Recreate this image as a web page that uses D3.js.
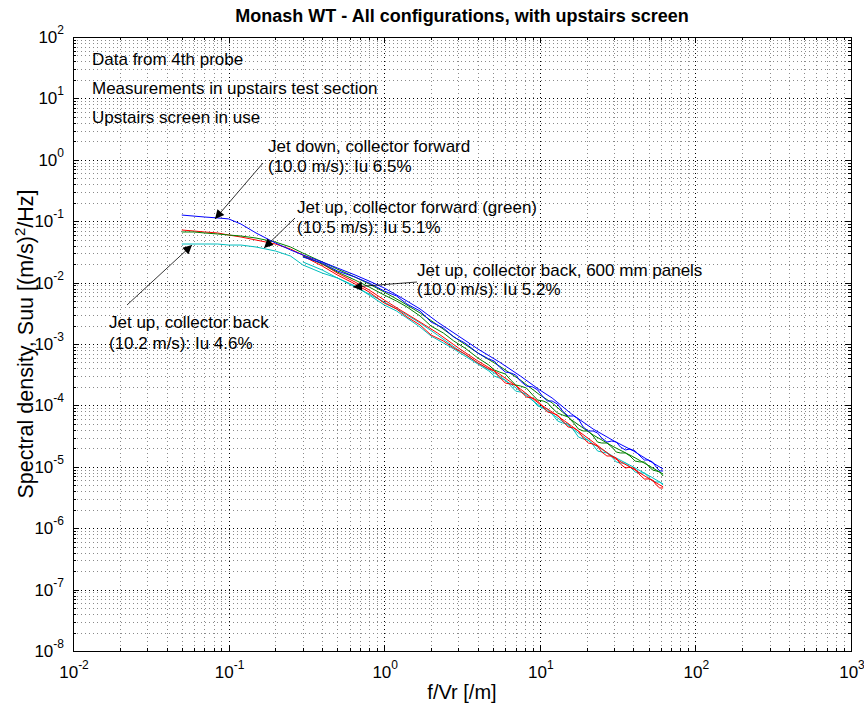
<!DOCTYPE html>
<html><head><meta charset="utf-8">
<script src="https://cdn.jsdelivr.net/npm/d3@7"></script>
<style>body{margin:0;background:#fff}svg{display:block}text{font-family:Arial,"Liberation Sans",sans-serif}</style>
</head><body><div id="c"></div>
<script>
// ---- data ----
const title = "Monash WT - All configurations, with upstairs screen";
const xLabel = "f/Vr [/m]";
const yLabelMain = "Spectral density, Suu [(m/s)";
const yLabelSup = "2";
const yLabelEnd = "/Hz]";
const xTickExps = [-2, -1, 0, 1, 2, 3];
const yTickExps = [-8, -7, -6, -5, -4, -3, -2, -1, 0, 1, 2];

const fLow  = [0.05,0.06,0.07,0.085,0.1,0.12,0.15,0.2,0.25,0.3,0.4,0.5,0.65,0.8,1,1.3,1.7,2.2,3,4,5.5,7.5,10,12,16,22,30,40,52,62];
const fHigh = [0.3,0.4,0.5,0.65,0.8,1,1.2,1.4,1.7,2,2.4,2.8,3.3,4,
  4.7,5.1,5.5,6,6.5,7,7.5,8.2,9,9.7,10.5,11.2,12,13,14,15.2,16.5,17.7,19,20.5,22,23.5,25,27,29,31,33,35.5,38,41,44,47,50,53,56,59,62];

const blueLow  = [0.126,0.121,0.117,0.113,0.109,0.090,0.0643,0.0442,0.034,0.0282,0.0217,0.0173,0.0133,0.0106,0.00817,0.00561,0.00372,0.00228,0.00135,0.00083,0.000509,0.000301,0.000178,0.000132,
  0.0000724,0.0000413,0.0000263,0.0000181,0.000012,0.0000092];
const blueHigh = [0.0261,0.0208,0.0155,0.0123,0.00985,0.0073,0.00605,0.00448,0.00345,0.00228,0.00182,0.0013,0.00104,0.000713,
  0.00057,0.000528,0.000422,0.00035,0.000338,0.000313,0.00025,0.000207,0.0002,0.000178,0.000137,0.000118,0.000118,0.000105,0.0000811,0.0000672,0.0000672,0.0000602,0.0000445,0.0000383,0.0000383,0.0000355,0.0000294,0.0000253,0.0000263,0.0000253,0.000021,0.0000188,0.0000195,0.0000181,0.000015,0.0000129,0.0000129,0.000012,0.0000099,0.00000855,0.00000855];

const greenLow  = [0.0667,0.0667,0.0643,0.0619,0.0596,0.0574,0.0532,0.0458,0.038,0.0303,0.0217,0.0166,0.0123,0.00948,0.00703,0.00483,0.0032,0.00204,0.00116,0.000713,0.000438,0.000259,0.000148,0.00011,
  0.0000579,0.000033,0.000021,0.0000145,0.0000099,0.00000763];
const greenHigh = [0.0271,0.0201,0.0149,0.011,0.00848,0.00628,0.00501,0.00401,0.00286,0.00196,0.00151,0.00112,0.000861,0.000592,
  0.000455,0.000378,0.00035,0.000325,0.000259,0.000215,0.000207,0.000192,0.000148,0.000122,0.000118,0.00011,0.0000907,0.0000752,0.0000698,0.0000648,0.0000517,0.0000413,0.0000383,0.0000383,0.0000318,0.0000253,0.0000244,0.0000244,0.000021,0.0000174,0.0000168,0.0000168,0.000015,0.0000124,0.000012,0.000012,0.0000103,0.00000887,0.00000855,0.00000823,0.00000708];

const redLow  = [0.0719,0.0692,0.0667,0.0643,0.0596,0.0553,0.0494,0.0425,0.0352,0.0282,0.0201,0.0143,0.0102,0.00757,0.00521,0.00345,0.00228,0.00151,0.000861,0.000528,0.000325,0.000185,0.000105,0.0000781,
  0.0000462,0.0000253,0.0000139,0.0000092,0.0000061,0.0000047];
const redHigh = [0.0271,0.0186,0.0133,0.00948,0.00703,0.00465,0.00372,0.00276,0.00204,0.0014,0.00112,0.000861,0.000687,0.000491,
  0.000392,0.000364,0.00029,0.000231,0.000223,0.000215,0.000171,0.000137,0.000132,0.000118,0.0000942,0.0000781,0.0000752,0.0000698,0.0000558,0.0000445,0.0000429,0.0000383,0.0000294,0.0000244,0.0000235,0.0000218,0.0000174,0.000015,0.000015,0.0000139,0.0000111,0.00000955,0.0000099,0.0000092,0.00000735,0.00000633,0.00000633,0.0000061,0.00000506,0.00000452,0.00000452];

const cyanLow  = [0.0425,0.0425,0.0425,0.0425,0.0409,0.0409,0.038,0.0327,0.0271,0.0194,0.0143,0.0119,0.00848,0.00652,0.00483,0.00332,0.0022,0.0014,0.000798,0.000491,0.000301,0.000171,0.0000977,0.0000724,
  0.0000429,0.0000235,0.0000145,0.0000099,0.00000683,0.00000525];
const cyanHigh = [0.0217,0.016,0.0119,0.00881,0.00628,0.00432,0.00345,0.00265,0.00189,0.00135,0.00104,0.00083,0.000638,0.000472,
  0.000364,0.000301,0.000279,0.000259,0.000207,0.000171,0.000165,0.000153,0.000122,0.0000977,0.0000907,0.0000873,0.0000724,0.0000558,0.0000517,0.0000498,0.0000397,0.0000306,0.0000284,0.0000273,0.0000226,0.0000181,0.0000174,0.0000168,0.0000145,0.000012,0.0000115,0.0000115,0.0000099,0.00000823,0.00000793,0.00000793,0.00000683,0.00000587,0.00000565,0.00000565,0.00000506];

const seriesColors = ["#0000ff","#008000","#ff0000","#00bfbf"];

const notesTopLeft = ["Data from 4th probe","Measurements in upstairs test section","Upstairs screen in use"];
const arrowNotes = [
  {lines:["Jet down, collector forward","(10.0 m/s): Iu 6.5%"], tx:268, ty:152, dy:20, from:[263,163], to:[0.0818,0.1086]},
  {lines:["Jet up, collector forward (green)","(10.5 m/s): Iu 5.1%"], tx:297, ty:213, dy:20, from:[295,218], to:[0.169,0.0366]},
  {lines:["Jet up, collector back, 600 mm panels","(10.0 m/s): Iu 5.2%"], tx:417, ty:276, dy:19, from:[417,282], to:[0.63,0.00848]},
  {lines:["Jet up, collector back","(10.2 m/s): Iu 4.6%"], tx:109, ty:328, dy:21, from:[127,305], to:[0.0582,0.0409]}
];

// ---- layout ----
const W = 864, H = 708;
const m = {l:73, t:37, r:851, b:651};
const svg = d3.select("#c").append("svg").attr("width",W).attr("height",H);
const x = d3.scaleLog().domain([1e-2,1e3]).range([m.l,m.r]);
const y = d3.scaleLog().domain([1e-8,1e2]).range([m.b,m.t]);

// grid
const g = svg.append("g");
const minorX = [], majorX = [], minorY = [], majorY = [];
for (let e=-2;e<3;e++) for (let k=1;k<10;k++){ const v=k*Math.pow(10,e); (k===1?majorX:minorX).push(v); }
majorX.push(1e3);
for (let e=-8;e<2;e++) for (let k=1;k<10;k++){ const v=k*Math.pow(10,e); (k===1?majorY:minorY).push(v); }
majorY.push(1e2);

g.selectAll(".gxm").data(minorX).enter().append("line")
 .attr("x1",d=>Math.round(x(d))+0.5).attr("x2",d=>Math.round(x(d))+0.5).attr("y1",m.t).attr("y2",m.b)
 .attr("stroke","#8a8a8a").attr("stroke-dasharray","1,3");
g.selectAll(".gym").data(minorY).enter().append("line")
 .attr("y1",d=>Math.round(y(d))+0.5).attr("y2",d=>Math.round(y(d))+0.5).attr("x1",m.l).attr("x2",m.r)
 .attr("stroke","#8a8a8a").attr("stroke-dasharray","1,3");
g.selectAll(".gxM").data(majorX).enter().append("line")
 .attr("x1",d=>Math.round(x(d))+0.5).attr("x2",d=>Math.round(x(d))+0.5).attr("y1",m.t).attr("y2",m.b)
 .attr("stroke","#000").attr("stroke-dasharray","1,3");
g.selectAll(".gyM").data(majorY).enter().append("line")
 .attr("y1",d=>Math.round(y(d))+0.5).attr("y2",d=>Math.round(y(d))+0.5).attr("x1",m.l).attr("x2",m.r)
 .attr("stroke","#000").attr("stroke-dasharray","1,3");

// axes with ticks inside
const tickSize = 6;
const ax = svg.append("g");
function xticks(vals,len){
  vals.forEach(v=>{
    const px = Math.round(x(v))+0.5;
    ax.append("line").attr("x1",px).attr("x2",px).attr("y1",m.b).attr("y2",m.b-len).attr("stroke","#000");
    ax.append("line").attr("x1",px).attr("x2",px).attr("y1",m.t).attr("y2",m.t+len).attr("stroke","#000");
  });
}
function yticks(vals,len){
  vals.forEach(v=>{
    const py = Math.round(y(v))+0.5;
    ax.append("line").attr("y1",py).attr("y2",py).attr("x1",m.l).attr("x2",m.l+len).attr("stroke","#000");
    ax.append("line").attr("y1",py).attr("y2",py).attr("x1",m.r).attr("x2",m.r-len).attr("stroke","#000");
  });
}
xticks(majorX,tickSize); xticks(minorX,3);
yticks(majorY,tickSize); yticks(minorY,3);
ax.append("rect").attr("x",m.l+0.5).attr("y",m.t+0.5).attr("width",m.r-m.l).attr("height",m.b-m.t)
  .attr("fill","none").attr("stroke","#000");

// tick labels
xTickExps.forEach(e=>{
  const t = svg.append("text").attr("x",x(Math.pow(10,e))+1).attr("y",m.b+27).attr("text-anchor","middle")
    .attr("font-size",17);
  t.append("tspan").text("10");
  t.append("tspan").attr("dy",-9).attr("font-size",12).text(e);
});
yTickExps.forEach(e=>{
  const t = svg.append("text").attr("x",m.l-9).attr("y",y(Math.pow(10,e))+6).attr("text-anchor","end")
    .attr("font-size",17);
  t.append("tspan").text("10");
  t.append("tspan").attr("dy",-9).attr("font-size",12).text(e);
});

// lines
const line = d3.line().x(d=>x(d[0])).y(d=>y(d[1]));
const plotG = svg.append("g");
const sets = [
  [fLow,cyanLow,3],[fHigh,cyanHigh,3],
  [fLow,redLow,2],[fHigh,redHigh,2],
  [fLow,greenLow,1],[fHigh,greenHigh,1],
  [fLow,blueLow,0],[fHigh,blueHigh,0]
];
sets.forEach(([fx,vals,ci])=>{
  const n = Math.min(fx.length, vals.length);
  plotG.append("path").datum(fx.slice(0,n).map((f,i)=>[f,vals[i]]))
   .attr("d",line).attr("fill","none").attr("stroke",seriesColors[ci]).attr("stroke-width",1);
});

// notes
notesTopLeft.forEach((s,i)=>{
  svg.append("text").attr("x",92).attr("y",65+i*29).attr("font-size",17).text(s);
});
const defs = svg.append("defs");
defs.append("marker").attr("id","ah").attr("viewBox","0 0 10 10").attr("refX",10).attr("refY",5)
  .attr("markerWidth",12).attr("markerHeight",9).attr("markerUnits","userSpaceOnUse").attr("orient","auto")
  .append("path").attr("d","M0,0 L10,5 L0,10 z").attr("fill","#000");
arrowNotes.forEach(a=>{
  a.lines.forEach((s,i)=>{
    svg.append("text").attr("x",a.tx).attr("y",a.ty+i*a.dy).attr("font-size",17).text(s);
  });
  svg.append("line").attr("x1",a.from[0]).attr("y1",a.from[1]).attr("x2",x(a.to[0])).attr("y2",y(a.to[1]))
   .attr("stroke","#000").attr("stroke-width",0.8).attr("marker-end","url(#ah)");
});

// titles
svg.append("text").attr("x",(m.l+m.r)/2).attr("y",22).attr("text-anchor","middle")
  .attr("font-size",18).attr("font-weight","bold").text(title);
svg.append("text").attr("x",(m.l+m.r)/2).attr("y",699).attr("text-anchor","middle")
  .attr("font-size",20).text(xLabel);
const yl = svg.append("text").attr("transform",`translate(33,${(m.t+m.b)/2}) rotate(-90)`)
  .attr("text-anchor","middle").attr("font-size",21.5);
yl.append("tspan").text(yLabelMain);
yl.append("tspan").attr("dy",-8).attr("font-size",15).text(yLabelSup);
yl.append("tspan").attr("dy",8).text(yLabelEnd);
</script></body></html>
